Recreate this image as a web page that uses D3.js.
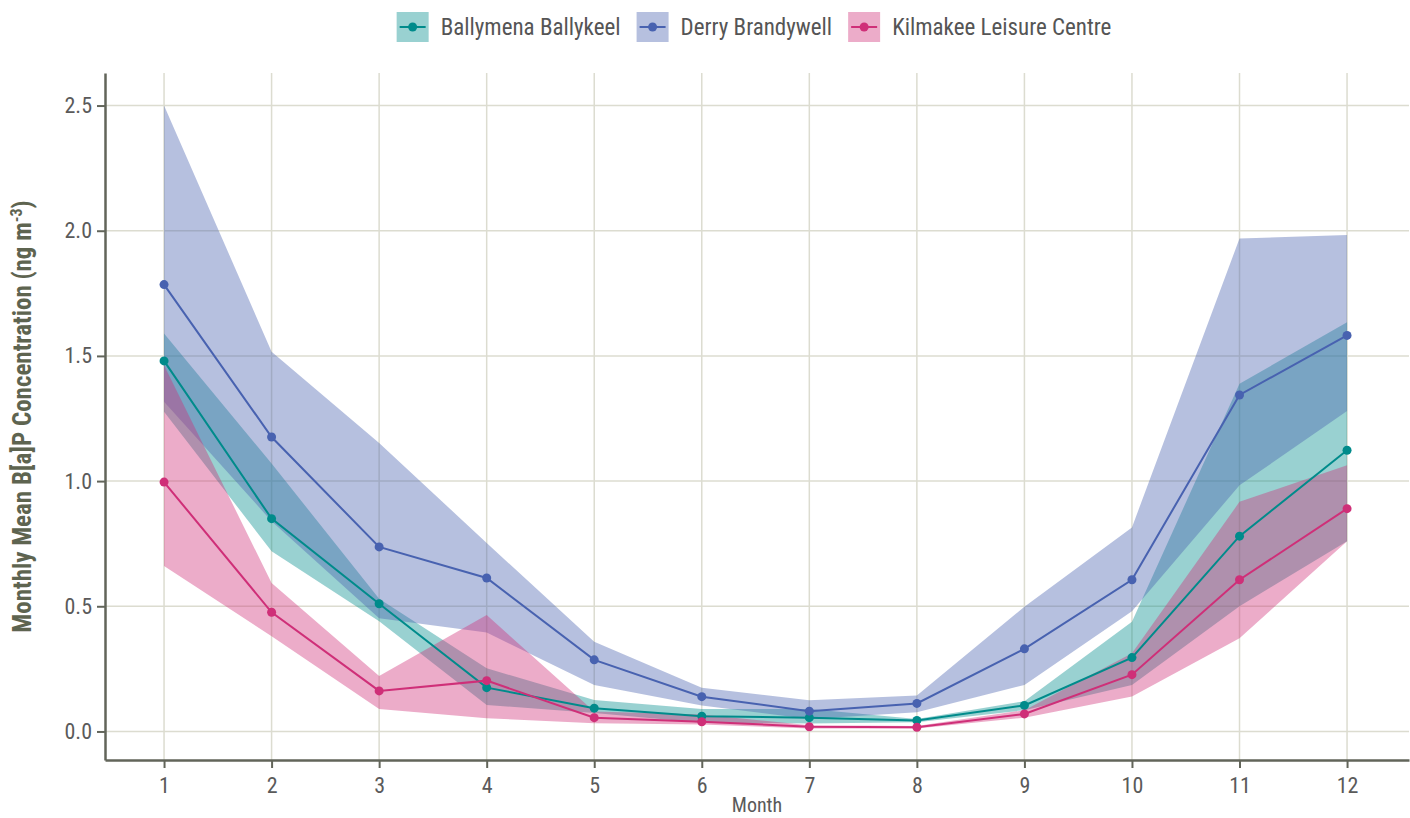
<!DOCTYPE html>
<html>
<head>
<meta charset="utf-8">
<script src="https://cdn.jsdelivr.net/npm/d3@7"></script>
<style>
  body { margin: 0; background: #fff; }
  svg { display: block; }
  text { font-family: "Liberation Sans Narrow", "Roboto Condensed", "DejaVu Sans Condensed", sans-serif; }
</style>
</head>
<body>
<svg id="chart"></svg>
<script>
const months = [1, 2, 3, 4, 5, 6, 7, 8, 9, 10, 11, 12];
const siteNames = ["Ballymena Ballykeel", "Derry Brandywell", "Kilmakee Leisure Centre"];
const siteColors = ["#008b8b", "#4862b0", "#cf2f78"];
const yTicks = [0, 0.5, 1.0, 1.5, 2.0, 2.5];

// monthly mean and spread (lower / upper) per site
const ballymenaMean = [1.48, 0.85, 0.51, 0.175, 0.093, 0.061, 0.055, 0.044, 0.104, 0.295, 0.78, 1.123];
const ballymenaLow = [1.277, 0.72, 0.44, 0.106, 0.074, 0.035, 0.032, 0.037, 0.085, 0.186, 0.5, 0.76];
const ballymenaHigh = [1.59, 1.07, 0.53, 0.252, 0.126, 0.09, 0.09, 0.05, 0.121, 0.438, 1.389, 1.634];

const derryMean = [1.785, 1.176, 0.737, 0.613, 0.286, 0.139, 0.081, 0.112, 0.33, 0.606, 1.344, 1.582];
const derryLow = [1.317, 0.84, 0.452, 0.395, 0.186, 0.104, 0.05, 0.077, 0.186, 0.48, 0.983, 1.28];
const derryHigh = [2.5, 1.517, 1.152, 0.753, 0.358, 0.175, 0.125, 0.144, 0.498, 0.815, 1.969, 1.983];

const kilmakeeMean = [0.996, 0.476, 0.162, 0.203, 0.055, 0.039, 0.019, 0.017, 0.07, 0.227, 0.606, 0.89];
const kilmakeeLow = [0.661, 0.38, 0.09, 0.053, 0.033, 0.028, 0.012, 0.012, 0.055, 0.14, 0.372, 0.76];
const kilmakeeHigh = [1.463, 0.593, 0.222, 0.465, 0.08, 0.068, 0.025, 0.022, 0.085, 0.312, 0.917, 1.063];

const width = 1410;
const height = 818;
const margin = { top: 73, right: 1, bottom: 58, left: 105 };

const series = [
  { name: siteNames[0], color: siteColors[0], mean: ballymenaMean, low: ballymenaLow, high: ballymenaHigh },
  { name: siteNames[1], color: siteColors[1], mean: derryMean, low: derryLow, high: derryHigh },
  { name: siteNames[2], color: siteColors[2], mean: kilmakeeMean, low: kilmakeeLow, high: kilmakeeHigh },
];

const svg = d3.select("#chart").attr("width", width).attr("height", height);

const x = d3.scaleLinear()
  .domain([0.451, 12.576])
  .range([margin.left, width - margin.right]);

const y = d3.scaleLinear()
  .domain([-0.114, 2.63])
  .range([height - margin.bottom, margin.top]);

const axisColor = "#62655a";
const gridColor = "#dcdcd0";

// grid
svg.append("g")
  .selectAll("line")
  .data(months)
  .join("line")
  .attr("x1", (d) => x(d))
  .attr("x2", (d) => x(d))
  .attr("y1", y.range()[1])
  .attr("y2", y.range()[0])
  .style("stroke", gridColor)
  .style("stroke-width", 1.5);

svg.append("g")
  .selectAll("line")
  .data(yTicks)
  .join("line")
  .attr("x1", x.range()[0])
  .attr("x2", x.range()[1])
  .attr("y1", (d) => y(d))
  .attr("y2", (d) => y(d))
  .style("stroke", gridColor)
  .style("stroke-width", 1.5);

// bands
let area = d3.area()
  .x((d) => x(d.m))
  .y0((d) => y(d.lo))
  .y1((d) => y(d.hi));

series.forEach((s) => {
  let pts = months.map((m, i) => ({ m: m, lo: s.low[i], hi: s.high[i] }));
  svg.append("path")
    .datum(pts)
    .attr("d", area)
    .style("fill", s.color)
    .style("fill-opacity", 0.4)
    .style("stroke", "none");
});

// mean lines + markers
let line = d3.line()
  .x((d) => x(d.m))
  .y((d) => y(d.v));

series.forEach((s) => {
  let pts = months.map((m, i) => ({ m: m, v: s.mean[i] }));
  svg.append("path")
    .datum(pts)
    .attr("d", line)
    .style("fill", "none")
    .style("stroke", s.color)
    .style("stroke-width", 2);
  svg.append("g")
    .selectAll("circle")
    .data(pts)
    .join("circle")
    .attr("cx", (d) => x(d.m))
    .attr("cy", (d) => y(d.v))
    .attr("r", 4.5)
    .style("fill", s.color);
});

// axes
let xAxis = svg.append("g")
  .attr("transform", `translate(0,${y.range()[0]})`)
  .call(d3.axisBottom(x).tickValues(months).tickFormat(d3.format("d")).tickSize(8).tickSizeOuter(0).tickPadding(9));

let yAxis = svg.append("g")
  .attr("transform", `translate(${x.range()[0]},0)`)
  .call(d3.axisLeft(y).tickValues(yTicks).tickFormat(d3.format(".1f")).tickSize(8).tickSizeOuter(0).tickPadding(5));

[xAxis, yAxis].forEach((a) => {
  a.select(".domain").style("stroke", axisColor).style("stroke-width", 2.5);
  a.selectAll(".tick line").style("stroke", axisColor).style("stroke-width", 2);
  a.selectAll(".tick text")
    .style("fill", "#5a5a5a")
    .style("font-size", "22px")
    .style("font-family", "\"Liberation Sans Narrow\", \"Roboto Condensed\", \"DejaVu Sans Condensed\", sans-serif");
});

// axis titles
svg.append("text")
  .attr("x", (x.range()[0] + x.range()[1]) / 2)
  .attr("y", 812)
  .attr("text-anchor", "middle")
  .style("font-size", "20px")
  .style("fill", "#5a5a5a")
  .text("Month");

let yTitle = svg.append("text")
  .attr("transform", `translate(31,${(y.range()[0] + y.range()[1]) / 2}) rotate(-90)`)
  .attr("text-anchor", "middle")
  .style("font-size", "25px")
  .style("font-weight", "bold")
  .style("fill", "#5e6450");
yTitle.append("tspan").text("Monthly Mean B[a]P Concentration (ng m");
yTitle.append("tspan").attr("dy", -9).style("font-size", "16px").text("-3");
yTitle.append("tspan").attr("dy", 9).text(")");

// legend
let legend = svg.append("g");
let lx = 0;
series.forEach((s) => {
  let item = legend.append("g").attr("transform", `translate(${lx},0)`);
  item.append("rect")
    .attr("x", 0).attr("y", 12)
    .attr("width", 32).attr("height", 30)
    .style("fill", s.color)
    .style("fill-opacity", 0.4);
  item.append("line")
    .attr("x1", 3).attr("x2", 29)
    .attr("y1", 27).attr("y2", 27)
    .style("stroke", s.color)
    .style("stroke-width", 2);
  item.append("circle")
    .attr("cx", 16).attr("cy", 27).attr("r", 4.5)
    .style("fill", s.color);
  let t = item.append("text")
    .attr("x", 44).attr("y", 35)
    .style("font-size", "23px")
    .style("fill", "#555")
    .text(s.name);
  lx += 44 + t.node().getComputedTextLength() + 16;
});
let legendWidth = lx - 16;
legend.attr("transform", `translate(${754 - legendWidth / 2},0)`);
</script>
</body>
</html>
